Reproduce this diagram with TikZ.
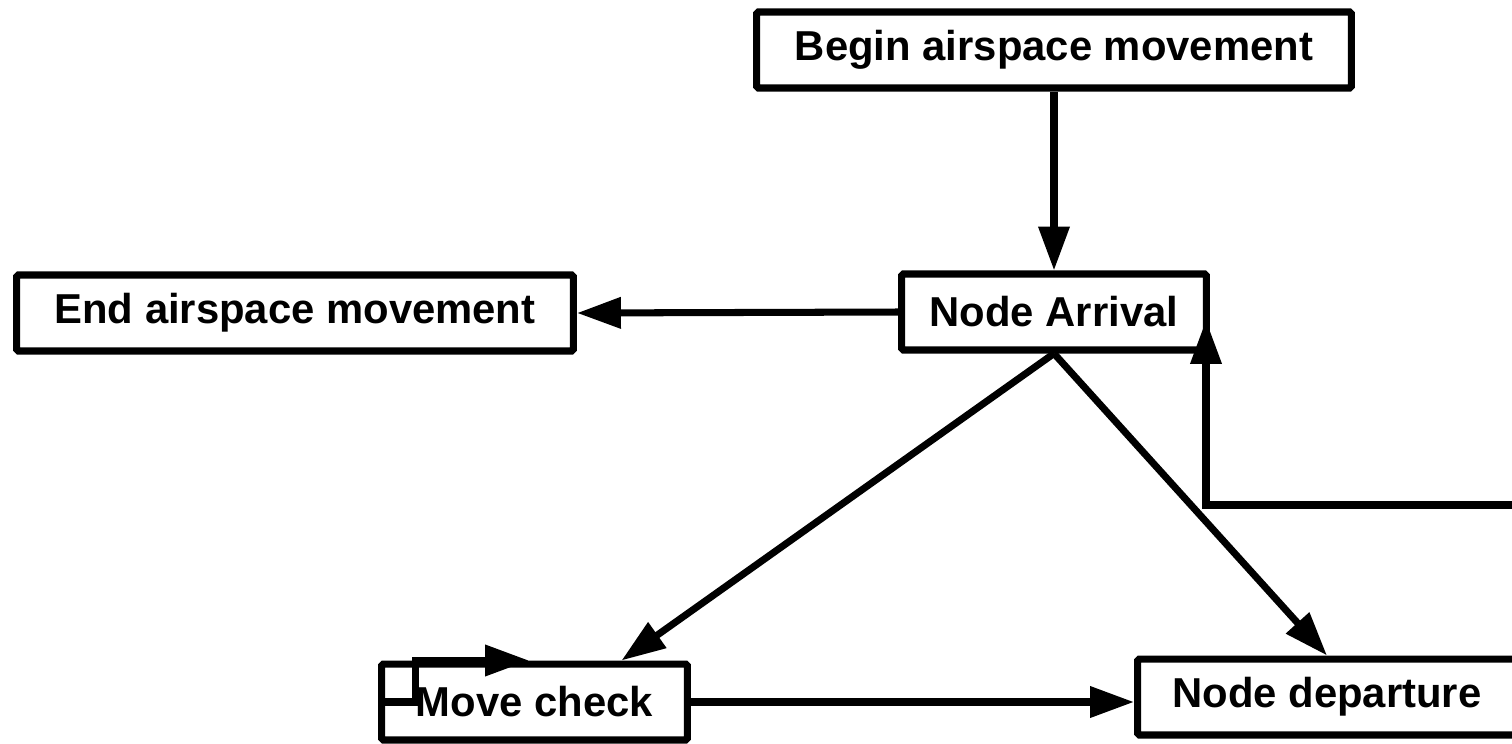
\documentclass[tikz,border=0pt]{standalone}
\usepackage{fontspec}
\setmainfont{Liberation Sans}
\usetikzlibrary{calc,arrows.meta}
\tikzset{
	box/.style={draw, line width=4pt, rounded corners=1pt, minimum height=1.52cm, inner sep=0pt, font=\bfseries\fontsize{23.8}{28}\selectfont},
	flow/.style={line width=4pt, -{Triangle[length=0.88cm, width=0.6cm]}}
}

\begin{document}
\begin{tikzpicture}[x=0.02cm, y=-0.02cm]
			%%%%% START %%%%%
			
			\useasboundingbox (0, 0) rectangle (1512, 744);
			
			\node[box, minimum width=11.9cm] (begin) at (1054, 50) {Begin airspace movement};
			\node[box, minimum width=6.1cm] (arr) at (1054, 312) {Node Arrival};
			\node[box, minimum width=11.14cm] (end) at (295, 313) {End airspace movement};
			\node[box, minimum width=6.12cm] (mc) at (534.5, 702) {Move check};
			\node[box, minimum width=7.58cm] (dep) at (1327, 697) {Node departure};
			
			\coordinate (turn) at (1206, 505);
			
			\draw[flow] (begin) -- (arr);
			\draw[flow] (arr.west) -- (end.east);
			\draw[flow] (arr.south) -- ($(mc.north)+(87, 0)$);
			\draw[flow] (arr.south) -- (dep.north);
			\draw[flow] (mc.east) -- (mc.east -| dep.west);
			
			\draw[flow] (mc.west) -| ($(mc.north west)+(37, 0)$) -- ++(114, 0);
			\draw[flow] (dep.east) -- ++(30, 0) |- (turn) -- ($(turn |- arr.east)+(0, 8)$);
			
			%%%%% END %%%%%
		\end{tikzpicture}
\end{document}
